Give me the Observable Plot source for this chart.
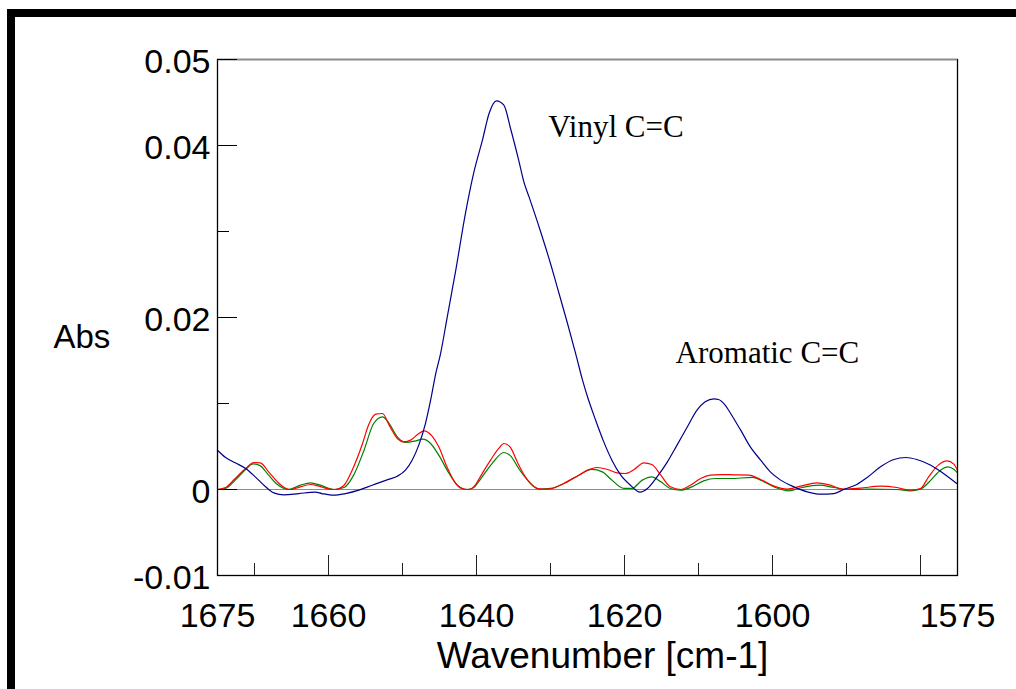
<!DOCTYPE html>
<html>
<head>
<meta charset="utf-8">
<script src="https://cdn.jsdelivr.net/npm/d3@7"></script>
<script src="https://cdn.jsdelivr.net/npm/@observablehq/plot@0.6"></script>
<style>
  html, body { margin: 0; padding: 0; background: #fff; }
  #wrap { position: relative; width: 1016px; height: 689px; overflow: hidden; }
  #border { position: absolute; left: 7px; top: 9px; width: 1009px; height: 680px;
            border-left: 8px solid #000; border-top: 8px solid #000; box-sizing: border-box; pointer-events: none; }
</style>
</head>
<body>
<div id="wrap"><div id="border"></div></div>
<script>
// ---- data ----
const blueWn = [1675.0,1673.9,1672.6,1671.2,1669.9,1668.5,1667.4,1666.0,1664.0,1661.8,1660.9,1659.3,1657.7,1655.9,1654.1,1651.8,1650.7,1649.6,1648.7,1647.8,1646.9,1646.2,1645.5,1644.9,1643.95,1642.8,1641.5,1640.4,1639.2,1638.3,1637.3,1636.3,1635.4,1634.3,1633.6,1632.9,1631.4,1630.0,1629.1,1627.7,1626.6,1625.7,1625.0,1623.9,1622.8,1621.7,1620.5,1619.2,1617.9,1616.9,1615.6,1614.2,1612.9,1611.5,1610.2,1609.1,1607.9,1607.3,1606.4,1605.7,1604.3,1603.0,1601.6,1600.3,1598.9,1597.1,1595.3,1593.5,1591.7,1590.4,1588.6,1587.2,1585.4,1583.6,1582.0,1580.5,1578.6,1576.9,1575.1];
const blueAbs = [0.00457,0.00372,0.0031,0.00244,0.00147,0.00031,-0.00039,-0.00062,-0.00047,-0.00031,-0.00047,-0.00066,-0.00047,-0.00008,0.0005,0.0012,0.00155,0.00225,0.00341,0.00516,0.00767,0.01039,0.01349,0.01562,0.02007,0.0255,0.03209,0.03674,0.04062,0.04372,0.04519,0.04469,0.04198,0.03829,0.03577,0.03402,0.03015,0.02628,0.02356,0.0193,0.01581,0.0128,0.01078,0.00806,0.00554,0.00341,0.00167,0.0005,-0.00031,0.00012,0.00147,0.00322,0.00516,0.00729,0.00922,0.01019,0.01054,0.01047,0.00981,0.0089,0.0069,0.00496,0.00341,0.00205,0.00109,0.00031,-0.00027,-0.00054,-0.00047,0,0.00058,0.0014,0.00264,0.00349,0.00372,0.00349,0.00283,0.00186,0.0007];

const redWn = [1675,1673.9,1672.6,1671.2,1670.1,1669.2,1668.1,1666.9,1666.0,1665.1,1663.8,1662.4,1661.3,1659.9,1659.1,1657.9,1656.8,1655.4,1654.6,1653.6,1652.7,1651.8,1650.7,1649.8,1648.9,1647.8,1647.1,1646.0,1645.1,1644.0,1643.1,1642.0,1641.0,1640.1,1639.5,1638.1,1637.0,1636.3,1635.4,1634.5,1633.4,1632.3,1631.2,1630.0,1628.2,1626.4,1625.0,1623.7,1622.3,1621.0,1619.9,1618.7,1617.4,1616.3,1615.1,1613.8,1612.4,1611.1,1609.7,1608.4,1607.0,1605.2,1603.2,1601.6,1599.8,1598.0,1596.2,1594.0,1592.2,1590.4,1588.1,1585.4,1583.2,1581.4,1580.0,1578.9,1577.6,1576.4,1575.5,1575.0];
const redAbs = [0,0.00023,0.00128,0.00244,0.00314,0.0031,0.00205,0.00089,0.00023,0,0.00031,0.00058,0.00039,0.00004,0,0.0005,0.00225,0.00535,0.00748,0.00876,0.00884,0.00748,0.00593,0.00554,0.00574,0.00651,0.00682,0.0062,0.00496,0.00264,0.00109,0.00012,0,0.0006,0.00147,0.00341,0.00477,0.00535,0.00488,0.00322,0.00147,0.00039,0.00004,0.00008,0.0007,0.00155,0.00225,0.00256,0.00233,0.00194,0.00186,0.00233,0.0031,0.00291,0.00167,0.00031,0,0.0005,0.00128,0.00167,0.00174,0.00171,0.00167,0.00116,0.00039,0.00004,0.00039,0.00078,0.0005,0.00004,0.00016,0.00039,0.00023,-0.00008,0.00012,0.00147,0.00283,0.00333,0.00295,0.00225];

const greenWn = [1675,1673.9,1672.6,1671.2,1670.2,1669.2,1668.1,1666.9,1665.4,1663.8,1662.4,1661.1,1659.3,1657.9,1656.6,1655.2,1653.9,1652.7,1651.8,1650.7,1649.6,1648.2,1647.3,1646.2,1645.1,1643.7,1642.6,1641.3,1640.4,1639.5,1637.9,1636.3,1635.4,1634.3,1633.1,1631.6,1630.0,1628.2,1626.4,1624.4,1623.0,1621.7,1620.1,1619.0,1617.6,1616.3,1615.1,1613.8,1612.4,1610.9,1609.3,1607.7,1605.7,1602.7,1601.4,1599.6,1597.8,1596.0,1593.7,1591.7,1589.9,1586.8,1583.2,1581.4,1580.0,1578.6,1577.3,1576.3,1575.5,1575.0];
const greenAbs = [0,0.00012,0.00109,0.00233,0.00298,0.00275,0.00167,0.00058,0,0.0005,0.00078,0.0005,0,0.00023,0.00167,0.00457,0.00767,0.00845,0.00767,0.00612,0.00547,0.00566,0.00585,0.00535,0.00399,0.00186,0.0005,0,0.0002,0.00116,0.00302,0.0043,0.00391,0.00244,0.00109,0.00004,0.00012,0.0007,0.00155,0.00233,0.00205,0.00109,0.00012,0.00012,0.00109,0.00147,0.00089,0.00012,-0.00008,0.00031,0.00101,0.00128,0.00128,0.0014,0.00101,0.00023,-0.00016,0.00023,0.0005,0.00023,0,0.00004,0,-0.00016,0.00004,0.00109,0.00225,0.00264,0.00236,0.00194];

const xLabelTicks = [1675, 1660, 1640, 1620, 1600, 1575];
const xMajorTicks = [1660, 1640, 1620, 1600, 1580];
const xMinorTicks = [1670, 1650, 1630, 1610, 1590];
const yLabelTicks = [0.05, 0.04, 0.02, 0, -0.01];
const yMajorTicks = [0.05, 0.04, 0.02, 0];
const yMinorTicks = [0.03, 0.01];

const annotationText = ["Vinyl C=C", "Aromatic C=C"];
const annotationWn = [1630.3, 1613.1];
const annotationAbs = [0.0410, 0.01472];

const xTitle = "Wavenumber [cm-1]";
const yTitle = "Abs";

// ---- build tables ----
const toRows = (wn, ab) => wn.map((w, i) => ({wn: w, abs: ab[i]}));
const blue = toRows(blueWn, blueAbs);
const red = toRows(redWn, redAbs);
const green = toRows(greenWn, greenAbs);
const annotations = annotationText.map((t, i) => ({label: t, wn: annotationWn[i], abs: annotationAbs[i]}));

const sans = "'Liberation Sans', Arial, sans-serif";
const serif = "'Liberation Serif', 'Times New Roman', serif";

const chart = Plot.plot({
  width: 1016,
  height: 689,
  marginLeft: 217,
  marginRight: 59,
  marginTop: 59,
  marginBottom: 114,
  style: {fontFamily: sans, color: "#000", background: "transparent", overflow: "visible"},
  x: {domain: [1675, 1575], axis: null, label: null},
  y: {domain: [-0.01, 0.05], axis: null, label: null},
  marks: [
    Plot.ruleY([0], {stroke: "#8c8c8c", strokeWidth: 1}),
    Plot.line(green, {x: "wn", y: "abs", stroke: "#008000", strokeWidth: 1.2, curve: "monotone-x"}),
    Plot.line(red, {x: "wn", y: "abs", stroke: "#ff0000", strokeWidth: 1.2, curve: "monotone-x"}),
    Plot.line(blue, {x: "wn", y: "abs", stroke: "#00008b", strokeWidth: 1.2, curve: "monotone-x"}),
    Plot.frame({stroke: "#000", strokeWidth: 1.3}),
    Plot.ruleY([0.05], {stroke: "#8c8c8c", strokeWidth: 1.3}),
    Plot.axisX(xMajorTicks, {anchor: "bottom", tickSize: -20, fill: "none", stroke: "#222", label: null}),
    Plot.axisX(xMinorTicks, {anchor: "bottom", tickSize: -12, fill: "none", stroke: "#222", label: null}),
    Plot.axisY(yMajorTicks, {anchor: "left", tickSize: -20, fill: "none", stroke: "#000", label: null}),
    Plot.axisY(yMinorTicks, {anchor: "left", tickSize: -12, fill: "none", stroke: "#000", label: null}),
    Plot.axisX(xLabelTicks, {anchor: "bottom", tickSize: 0, tickPadding: 27, fontSize: 34, fontFamily: sans, label: null, tickFormat: d => String(d)}),
    Plot.axisY(yLabelTicks, {anchor: "left", tickSize: 0, tickPadding: 7, dy: 3, fontSize: 34, fontFamily: sans, label: null,
      tickFormat: d => d === 0 ? "0" : d.toFixed(2)}),
    Plot.text([xTitle], {frameAnchor: "bottom", dx: 15, dy: 92, lineAnchor: "bottom", fontSize: 37, fontFamily: sans, fill: "#000"}),
    Plot.text([yTitle], {frameAnchor: "left", dx: -164, dy: 20, textAnchor: "start", fontSize: 33, fontFamily: sans, fill: "#000"}),
    Plot.text(annotations, {x: "wn", y: "abs", text: "label", textAnchor: "start", lineAnchor: "bottom", fontSize: 31, fontFamily: serif, fill: "#000"})
  ]
});
chart.style.position = "absolute";
chart.style.left = "0";
chart.style.top = "0";
document.getElementById("wrap").insertBefore(chart, document.getElementById("border"));
</script>
</body>
</html>
